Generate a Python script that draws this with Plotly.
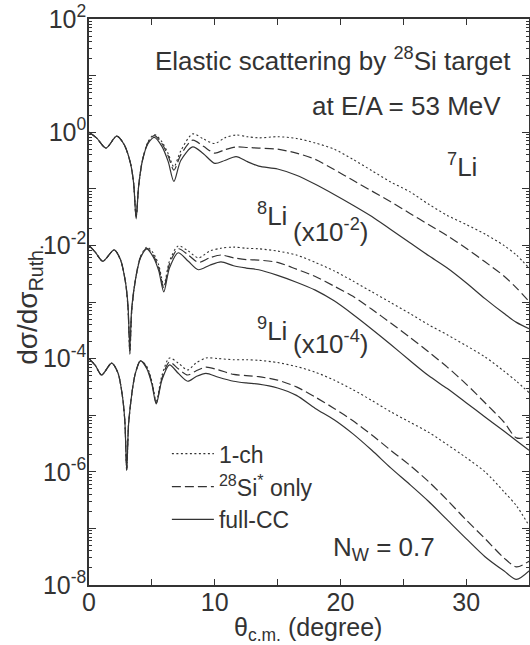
import plotly.graph_objects as go

# ---------------- data (log10 of dσ/dσ_Ruth) ----------------
theta_7 = [0, 0.6, 1.35, 2.2, 2.8, 3.3, 3.55, 3.75, 3.95, 4.25, 4.7, 5.2, 5.8, 6.3, 6.75, 7.3,
           8.25, 9.1, 10.0, 10.8, 11.7, 12.6, 13.5, 15.0, 16.5, 18.0, 19.5, 21.0, 22.5, 24.0,
           25.5, 27.0, 28.5, 30.0, 31.5, 33.0, 34.0, 35.0]
li7_full = [0.0, -0.10, -0.28, -0.07, -0.22, -0.55, -0.9, -1.53, -0.95, -0.5, -0.2, -0.09, -0.25,
            -0.52, -0.87, -0.5, -0.26, -0.38, -0.55, -0.5, -0.43, -0.52, -0.6, -0.65, -0.76, -0.92,
            -1.1, -1.29, -1.49, -1.72, -1.95, -2.18, -2.40, -2.66, -2.94, -3.2, -3.36, -3.47]
li7_si = [0.0, -0.10, -0.28, -0.07, -0.22, -0.55, -0.9, -1.5, -0.95, -0.5, -0.18, -0.06, -0.2,
          -0.42, -0.67, -0.4, -0.14, -0.25, -0.37, -0.31, -0.26, -0.27, -0.28, -0.3, -0.37, -0.48,
          -0.66, -0.85, -1.04, -1.23, -1.43, -1.63, -1.83, -2.05, -2.29, -2.54, -2.75, -2.99]
li7_1ch = [0.0, -0.10, -0.28, -0.07, -0.22, -0.55, -0.9, -1.5, -0.95, -0.5, -0.17, -0.04, -0.17,
           -0.38, -0.61, -0.33, -0.03, -0.12, -0.2, -0.1, -0.05, -0.08, -0.1, -0.08, -0.11, -0.19,
           -0.3, -0.48, -0.68, -0.88, -1.05, -1.27, -1.47, -1.63, -1.8, -2.0, -2.17, -2.4]

theta_8 = [0, 0.5, 1.1, 2.0, 2.5, 2.9, 3.1, 3.25, 3.4, 3.7, 4.1, 4.6, 5.1, 5.55, 5.95, 6.4, 7.1,
           7.9, 8.7, 9.6, 10.5, 11.5, 12.5, 13.5, 15.0, 16.5, 18.0, 19.5, 21.0, 22.5, 24.0, 25.5,
           27.0, 28.5, 30.0, 31.5, 33.0, 34.0, 35.0]
li8_full = [-2.0, -2.12, -2.28, -2.08, -2.25, -2.65, -3.05, -3.8, -3.1, -2.6, -2.22, -2.06, -2.2,
            -2.45, -2.82, -2.4, -2.13, -2.28, -2.43, -2.35, -2.29, -2.36, -2.4, -2.43, -2.53, -2.65,
            -2.79, -2.98, -3.22, -3.48, -3.75, -4.03, -4.3, -4.53, -4.78, -5.03, -5.28, -5.45, -5.62]
li8_si = [-2.0, -2.12, -2.28, -2.08, -2.25, -2.65, -3.1, -3.9, -3.15, -2.6, -2.2, -2.05, -2.17,
          -2.4, -2.75, -2.33, -2.06, -2.17, -2.3, -2.22, -2.17, -2.22, -2.25, -2.26, -2.3, -2.42,
          -2.55, -2.72, -2.9, -3.13, -3.37, -3.62, -3.88, -4.15, -4.45, -4.78, -5.12, -5.4, -5.38]
li8_1ch = [-2.0, -2.12, -2.28, -2.08, -2.25, -2.65, -3.1, -3.92, -3.15, -2.6, -2.2, -2.03, -2.13,
           -2.35, -2.7, -2.28, -2.01, -2.1, -2.22, -2.1, -2.05, -2.03, -2.05, -2.06, -2.1, -2.17,
           -2.3, -2.45, -2.63, -2.82, -3.01, -3.2, -3.4, -3.58, -3.77, -3.97, -4.22, -4.4, -4.6]

theta_9 = [0, 0.5, 1.0, 1.8, 2.3, 2.65, 2.85, 3.0, 3.15, 3.45, 3.7, 4.1, 4.6, 5.0, 5.35, 5.8, 6.4,
           7.1, 7.85, 8.5, 9.3, 10.3, 11.5, 12.5, 13.5, 15.0, 16.5, 18.0, 19.5, 21.0, 22.5, 24.0,
           25.5, 27.0, 28.5, 30.0, 31.5, 33.0, 34.0, 35.0]
li9_full = [-4.0, -4.12, -4.29, -4.08, -4.25, -4.65, -5.1, -5.97, -5.15, -4.55, -4.25, -4.04, -4.18,
            -4.45, -4.8, -4.38, -4.11, -4.26, -4.4, -4.32, -4.26, -4.33, -4.4, -4.43, -4.45, -4.52,
            -4.65, -4.88, -5.08, -5.33, -5.62, -5.93, -6.22, -6.52, -6.85, -7.18, -7.5, -7.75, -7.9,
            -7.75]
li9_si = [-4.0, -4.12, -4.29, -4.08, -4.25, -4.65, -5.1, -5.97, -5.15, -4.55, -4.25, -4.03, -4.16,
          -4.42, -4.78, -4.35, -4.06, -4.18, -4.29, -4.22, -4.15, -4.2, -4.28, -4.3, -4.32, -4.38,
          -4.5, -4.68, -4.88, -5.1, -5.35, -5.62, -5.88, -6.17, -6.5, -6.85, -7.18, -7.52, -7.68,
          -7.58]
li9_1ch = [-4.0, -4.12, -4.29, -4.08, -4.25, -4.65, -5.1, -5.97, -5.15, -4.55, -4.25, -4.04, -4.14,
           -4.4, -4.75, -4.3, -3.99, -4.08, -4.2, -4.08, -3.99, -4.0, -4.02, -4.02, -4.03, -4.07,
           -4.14, -4.24, -4.38, -4.55, -4.74, -4.94, -5.12, -5.3, -5.52, -5.75, -6.0, -6.35, -6.6,
           -6.95]

legend_names = ["1-ch", "<sup>28</sup>Si<sup>*</sup> only", "full-CC"]
y_tick_exponents = [2, 1, 0, -1, -2, -3, -4, -5, -6, -7, -8]
x_tick_values = [0, 5, 10, 15, 20, 25, 30, 35]
x_tick_labels = ["0", "", "10", "", "20", "", "30", ""]

# ---------------- styling ----------------
INK = "#333333"
FONT = "Liberation Sans, Arial, sans-serif"
styles = {
    "1ch": dict(dash="2px,2.5px", width=1.1),
    "si": dict(dash="9px,4px", width=1.2),
    "full": dict(dash="solid", width=1.2),
}

fig = go.Figure()

groups = [
    (theta_7, li7_1ch, li7_si, li7_full, False),
    (theta_8, li8_1ch, li8_si, li8_full, False),
    (theta_9, li9_1ch, li9_si, li9_full, True),
]
for th, c1, c2, c3, show in groups:
    for vals, key, name in zip((c1, c2, c3), ("1ch", "si", "full"), legend_names):
        fig.add_trace(go.Scatter(
            x=th, y=[10 ** v for v in vals], mode="lines", name=name,
            line=dict(color=INK, width=styles[key]["width"], dash=styles[key]["dash"],
                      shape="spline", smoothing=0.8),
            showlegend=show, legendgroup=key, hoverinfo="skip"))

y_tickvals = [10.0 ** e for e in y_tick_exponents]
y_ticktext = [("10<sup>%d</sup>" % e) if e % 2 == 0 else "" for e in y_tick_exponents]
minor_vals = [k * 10.0 ** e for e in range(-8, 2) for k in range(2, 10)]

TICKFONT = dict(family=FONT, size=25, color=INK)
fig.update_xaxes(
    range=[0, 35], tickmode="array", tickvals=x_tick_values, ticktext=x_tick_labels,
    ticks="inside", ticklen=6, tickwidth=1.2, tickcolor=INK,
    showline=True, linecolor=INK, linewidth=1.5, mirror="ticks",
    showgrid=False, zeroline=False, tickfont=TICKFONT,
    ticklabelstandoff=-6, ticklabeloverflow="allow", automargin=False,
)
fig.update_yaxes(
    type="log", range=[-8, 2], tickmode="array", tickvals=y_tickvals, ticktext=y_ticktext,
    ticks="inside", ticklen=7, tickwidth=1.2, tickcolor=INK,
    minor=dict(tickmode="array", tickvals=minor_vals, ticks="inside", ticklen=3,
               tickcolor=INK, tickwidth=0.8, showgrid=False),
    showline=True, linecolor=INK, linewidth=1.5, mirror="ticks",
    showgrid=False, zeroline=False, tickfont=TICKFONT,
    ticklabelstandoff=-4, ticklabeloverflow="allow", automargin=False,
)

tf = dict(family=FONT, size=26, color=INK)
ann = [
    dict(x=33.7, y=1.29, text="Elastic scattering by <sup>28</sup>Si target", xanchor="right"),
    dict(x=32.9, y=0.46, text="at E/A = 53 MeV", xanchor="right"),
    dict(x=28.3, y=-0.58, text="<sup>7</sup>Li", xanchor="left"),
    dict(x=13.2, y=-1.46, text="<sup>8</sup>Li", xanchor="left"),
    dict(x=16.1, y=-1.73, text="(x10<sup>-2</sup>)", xanchor="left"),
    dict(x=13.2, y=-3.49, text="<sup>9</sup>Li", xanchor="left"),
    dict(x=16.1, y=-3.71, text="(x10<sup>-4</sup>)", xanchor="left"),
    dict(x=23.5, y=-7.35, text="N<sub>W</sub> = 0.7", xanchor="center"),
]
for a in ann:
    fig.add_annotation(xref="x", yref="y", showarrow=False, yanchor="middle", font=tf, **a)

fig.add_annotation(xref="paper", yref="paper", x=-0.134, y=0.495, textangle=-90,
                   xanchor="center", yanchor="middle",
                   text="dσ/dσ<sub>Ruth.</sub>", showarrow=False,
                   font=dict(family=FONT, size=28, color=INK))
fig.add_annotation(xref="paper", yref="paper", x=0.498, y=-0.078,
                   xanchor="center", yanchor="middle",
                   text="θ<sub>c.m.</sub> (degree)", showarrow=False,
                   font=dict(family=FONT, size=25, color=INK))

fig.update_layout(
    width=530, height=645,
    margin=dict(l=89, r=1, t=19, b=60, autoexpand=False),
    paper_bgcolor="white", plot_bgcolor="white",
    showlegend=True,
    legend=dict(x=0.177, y=0.27, xanchor="left", yanchor="top",
                bgcolor="rgba(0,0,0,0)", font=dict(family=FONT, size=23, color=INK),
                tracegroupgap=0, itemwidth=42),
)

# remove the page's default 8px body margin so the 530x645 figure fills the window
fig.write_html("out.html", post_script="document.body.style.margin='0';",
               config={"displayModeBar": False})
